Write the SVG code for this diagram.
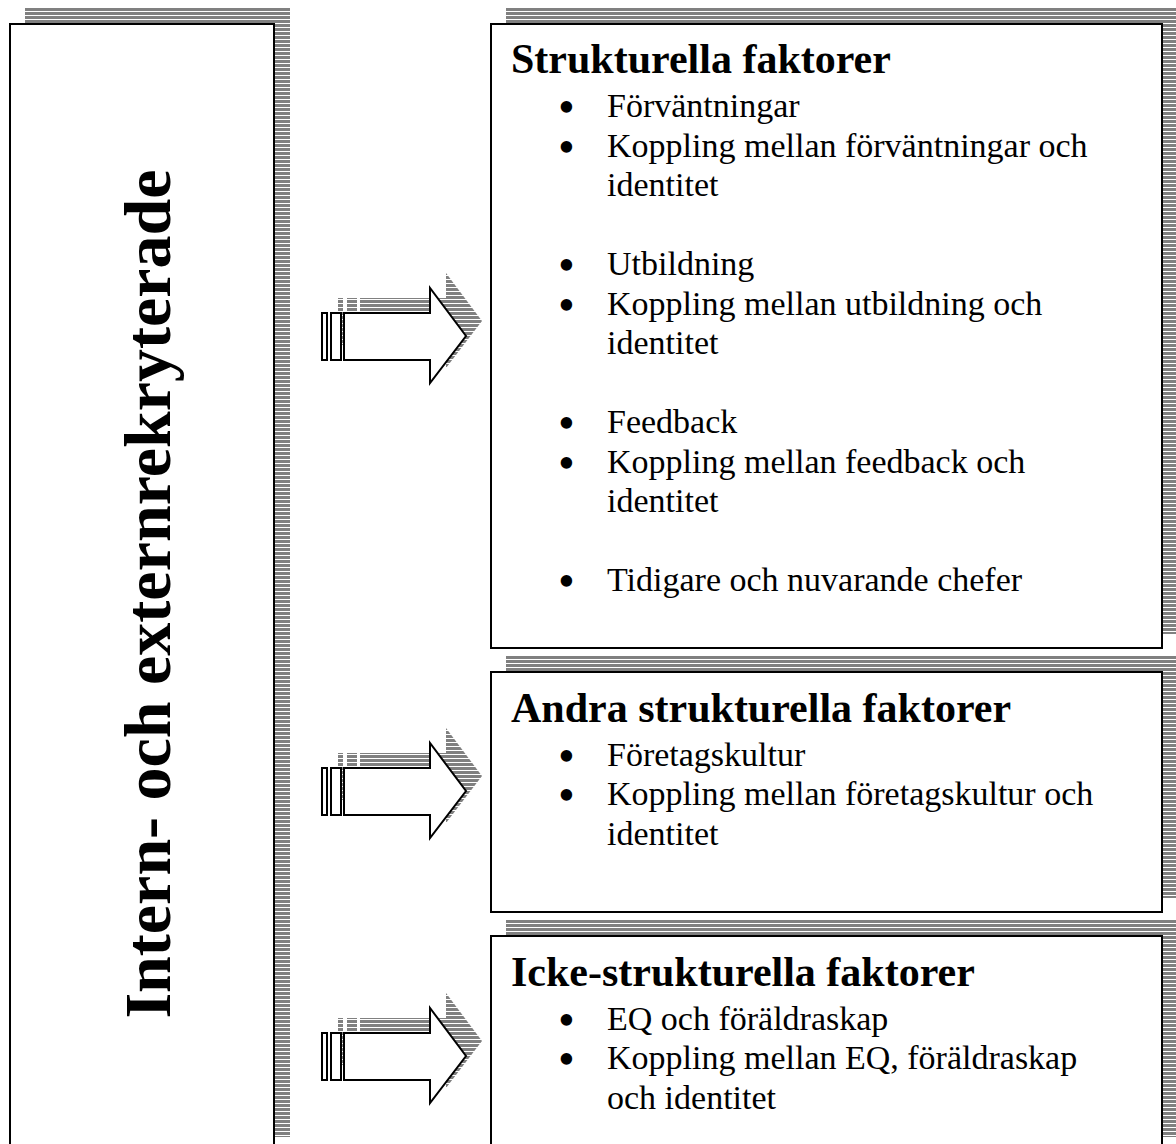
<svg xmlns="http://www.w3.org/2000/svg" width="1176" height="1144" viewBox="0 0 1176 1144">
<style>
.box{fill:#fff;stroke:#000;stroke-width:2}
.sh{fill:url(#stripes)}
.arr{fill:#fff;stroke:#000;stroke-width:2;stroke-linejoin:miter}
.t{font-family:"Liberation Serif","Times New Roman",serif;fill:#000}
.title{font-size:42px;font-weight:bold}
.item{font-size:34px}
.bul{font-size:48px}
.side{font-size:66px;font-weight:bold;text-anchor:middle}
</style>
<defs>
<pattern id="stripes" patternUnits="userSpaceOnUse" x="0" y="8" width="8" height="4">
<rect x="0" y="0" width="8" height="3" fill="#808080"/>
</pattern>
<g id="arrow">
<rect class="sh" x="338" y="298" width="5" height="47"/>
<rect class="sh" x="347" y="298" width="10" height="47"/>
<polygon class="sh" points="360,298 446,298 446,273 482,321 446,368 446,345 360,345"/>
<rect class="arr" x="322" y="313" width="5" height="47"/>
<rect class="arr" x="331" y="313" width="10" height="47"/>
<polygon class="arr" points="344,313 430,313 430,288 466,336 430,383 430,360 344,360"/>
</g>
</defs>

<g id="left-node">
<rect class="sh" x="25" y="8" width="265" height="1129"/>
<rect class="box" x="10" y="24" width="264" height="1140"/>
<text class="t side" transform="translate(170,594) rotate(-90)">Intern- och externrekryterade</text>
</g>

<g id="connectors">
<use href="#arrow"/>
<use href="#arrow" transform="translate(0,455)"/>
<use href="#arrow" transform="translate(0,720)"/>
</g>

<g id="node-strukturella">
<rect class="sh" x="506" y="8" width="680" height="626"/>
<rect class="box" x="491" y="24" width="671" height="624"/>
<text class="t title" x="511" y="73">Strukturella faktorer</text>
<g class="t item">
<text x="558" y="117"><tspan class="bul" dy="6">•</tspan><tspan x="607" dy="-6">Förväntningar</tspan></text>
<text x="558" y="157"><tspan class="bul" dy="6">•</tspan><tspan x="607" dy="-6">Koppling mellan förväntningar och</tspan></text>
<text x="607" y="196">identitet</text>
<text x="558" y="275"><tspan class="bul" dy="6">•</tspan><tspan x="607" dy="-6">Utbildning</tspan></text>
<text x="558" y="315"><tspan class="bul" dy="6">•</tspan><tspan x="607" dy="-6">Koppling mellan utbildning och</tspan></text>
<text x="607" y="354">identitet</text>
<text x="558" y="433"><tspan class="bul" dy="6">•</tspan><tspan x="607" dy="-6">Feedback</tspan></text>
<text x="558" y="473"><tspan class="bul" dy="6">•</tspan><tspan x="607" dy="-6">Koppling mellan feedback och</tspan></text>
<text x="607" y="512">identitet</text>
<text x="558" y="591"><tspan class="bul" dy="6">•</tspan><tspan x="607" dy="-6">Tidigare och nuvarande chefer</tspan></text>
</g>
</g>

<g id="node-andra">
<rect class="sh" x="506" y="656" width="680" height="242"/>
<rect class="box" x="491" y="672" width="671" height="240"/>
<text class="t title" x="511" y="722">Andra strukturella faktorer</text>
<g class="t item">
<text x="558" y="766"><tspan class="bul" dy="6">•</tspan><tspan x="607" dy="-6">Företagskultur</tspan></text>
<text x="558" y="805"><tspan class="bul" dy="6">•</tspan><tspan x="607" dy="-6">Koppling mellan företagskultur och</tspan></text>
<text x="607" y="845">identitet</text>
</g>
</g>

<g id="node-icke">
<rect class="sh" x="506" y="920" width="680" height="217"/>
<rect class="box" x="491" y="936" width="671" height="230"/>
<text class="t title" x="511" y="986">Icke-strukturella faktorer</text>
<g class="t item">
<text x="558" y="1030"><tspan class="bul" dy="6">•</tspan><tspan x="607" dy="-6">EQ och föräldraskap</tspan></text>
<text x="558" y="1069"><tspan class="bul" dy="6">•</tspan><tspan x="607" dy="-6">Koppling mellan EQ, föräldraskap</tspan></text>
<text x="607" y="1109">och identitet</text>
</g>
</g>
</svg>
